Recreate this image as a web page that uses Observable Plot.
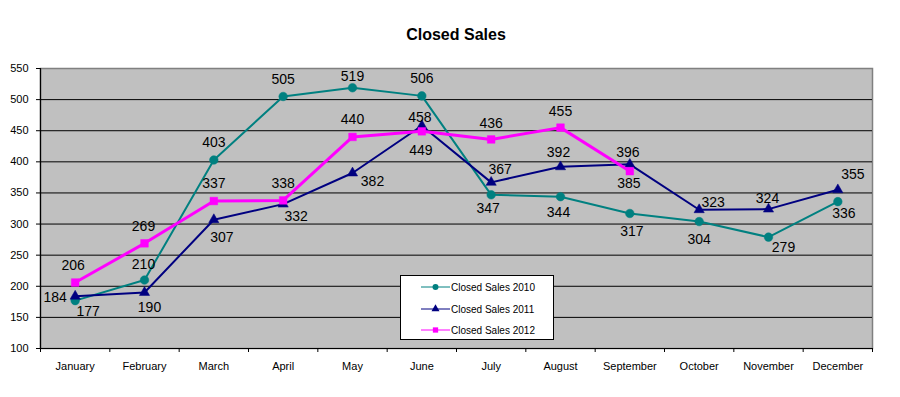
<!DOCTYPE html>
<html>
<head>
<meta charset="utf-8">
<script src="https://cdn.jsdelivr.net/npm/d3@7"></script>
<script src="https://cdn.jsdelivr.net/npm/@observablehq/plot@0.6"></script>
<style>
  html, body { margin: 0; padding: 0; background: #fff; }
  #wrap { position: relative; width: 900px; height: 397px; font-family: Arial, "Liberation Sans", sans-serif; }
  #title { height: 60px; box-sizing: border-box; padding: 25px 28px 0 40px; line-height: 20px; text-align: center; font-weight: bold; font-size: 16px; color: #000; }
  #legend { position: absolute; left: 400px; top: 275px; width: 152px; height: 63px; background: #fff; border: 1px solid #000; font-size: 10px; }
  #legend .row { position: absolute; left: 20px; height: 14px; display: flex; align-items: center; }
  #legend svg { display: block; margin-right: 1px; }
  #chart svg { display: block; }
</style>
</head>
<body>
<div id="wrap">
  <div id="title">Closed Sales</div>
  <div id="chart"></div>
  <div id="legend"></div>
</div>
<script>
const months = ["January","February","March","April","May","June","July","August","September","October","November","December"];
const sales2010 = [177, 210, 403, 505, 519, 506, 347, 344, 317, 304, 279, 336];
const sales2011 = [184, 190, 307, 332, 382, 458, 367, 392, 396, 323, 324, 355];
const sales2012 = [206, 269, 337, 338, 440, 449, 436, 455, 385];
const yTicks = [100, 150, 200, 250, 300, 350, 400, 450, 500, 550];
const seriesNames = ["Closed Sales 2010", "Closed Sales 2011", "Closed Sales 2012"];

// label placement offsets (layout only), [dx, dy] per point
const labelOffsets2010 = [[13,11],[-1,-16],[0,-17],[0,-17],[0,-11],[0,-17],[-3,14],[-2,16],[2,18],[0,18],[15,10],[6,12]];
const labelOffsets2011 = [[-20,1],[5,15],[8,18],[13,12],[20,8],[-2,-8],[9,-13],[-2,-14],[-2,-12],[14,-7],[-1,-11],[15,-15]];
const labelOffsets2012 = [[-2,-17],[-1,-17],[0,-18],[0,-17],[0,-17],[-1,19],[0,-16],[0,-16],[-1,12]];

const colors = ["#008080", "#000080", "#FF00FF"];
const symbols = ["circle", "triangle", "square"];
const radii = [4.3, 3.8, 4.3];
const widths = [2, 2, 3];

const allSeries = [sales2010, sales2011, sales2012];
const allOffsets = [labelOffsets2010, labelOffsets2011, labelOffsets2012];

const marks = [
  Plot.frame({fill: "#C0C0C0", stroke: "#808080", strokeWidth: 1.5}),
  Plot.ruleY(yTicks.filter(v => v > 100 && v < 550), {stroke: "#000", strokeWidth: 1}),
  Plot.ruleY(yTicks, {x1: -0.5, x2: -0.5, insetLeft: -4, stroke: "#000"}),
  Plot.ruleX(d3.range(13).map(i => i - 0.5), {y1: 100, y2: 100, insetBottom: -4, stroke: "#000"}),
  Plot.ruleX([-0.5], {stroke: "#000", strokeWidth: 1.2}),
  Plot.ruleY([100], {stroke: "#000", strokeWidth: 1.2})
];

allSeries.forEach((vals, s) => {
  const data = vals.map((v, i) => ({i, v}));
  marks.push(Plot.line(data, {x: "i", y: "v", stroke: colors[s], strokeWidth: widths[s]}));
  marks.push(Plot.dot(data, {x: "i", y: "v", symbol: () => symbols[s], r: radii[s], fill: colors[s], stroke: colors[s], strokeWidth: 0.5}));
});
allSeries.forEach((vals, s) => {
  vals.forEach((v, i) => {
    const [dx, dy] = allOffsets[s][i];
    marks.push(Plot.text([{i, v}], {x: "i", y: "v", text: d => String(d.v), dx, dy, fill: "#000", fontSize: 14}));
  });
});

const chart = Plot.plot({
  width: 900,
  height: 337,
  marginTop: 8,
  marginBottom: 49,
  marginLeft: 40,
  marginRight: 28,
  style: {fontFamily: "Arial, 'Liberation Sans', sans-serif", fontSize: "11px", color: "#000", background: "transparent", overflow: "visible"},
  x: {type: "linear", domain: [-0.5, 11.5], ticks: d3.range(12), tickFormat: i => months[i], tickSize: 0, tickPadding: 14, label: null},
  y: {domain: [100, 550], ticks: yTicks, tickSize: 0, tickPadding: 12, label: null},
  symbol: {type: "identity"},
  marks
});
document.getElementById("chart").appendChild(chart);

// legend
const legend = document.getElementById("legend");
const rowTops = [4, 26, 47];
seriesNames.forEach((name, s) => {
  const row = document.createElement("div");
  row.className = "row";
  row.style.top = rowTops[s] + "px";
  const sw = d3.create("svg").attr("width", 29).attr("height", 14);
  sw.append("line").attr("x1", 0).attr("x2", 29).attr("y1", 7).attr("y2", 7).attr("stroke", colors[s]).attr("stroke-width", 1);
  const sym = s === 0 ? d3.symbolCircle : s === 1 ? d3.symbolTriangle : d3.symbolSquare;
  sw.append("path").attr("d", d3.symbol(sym, 28)()).attr("transform", "translate(14.5,7)").attr("fill", colors[s]);
  row.appendChild(sw.node());
  const t = document.createElement("span");
  t.textContent = name;
  row.appendChild(t);
  legend.appendChild(row);
});
</script>
</body>
</html>
